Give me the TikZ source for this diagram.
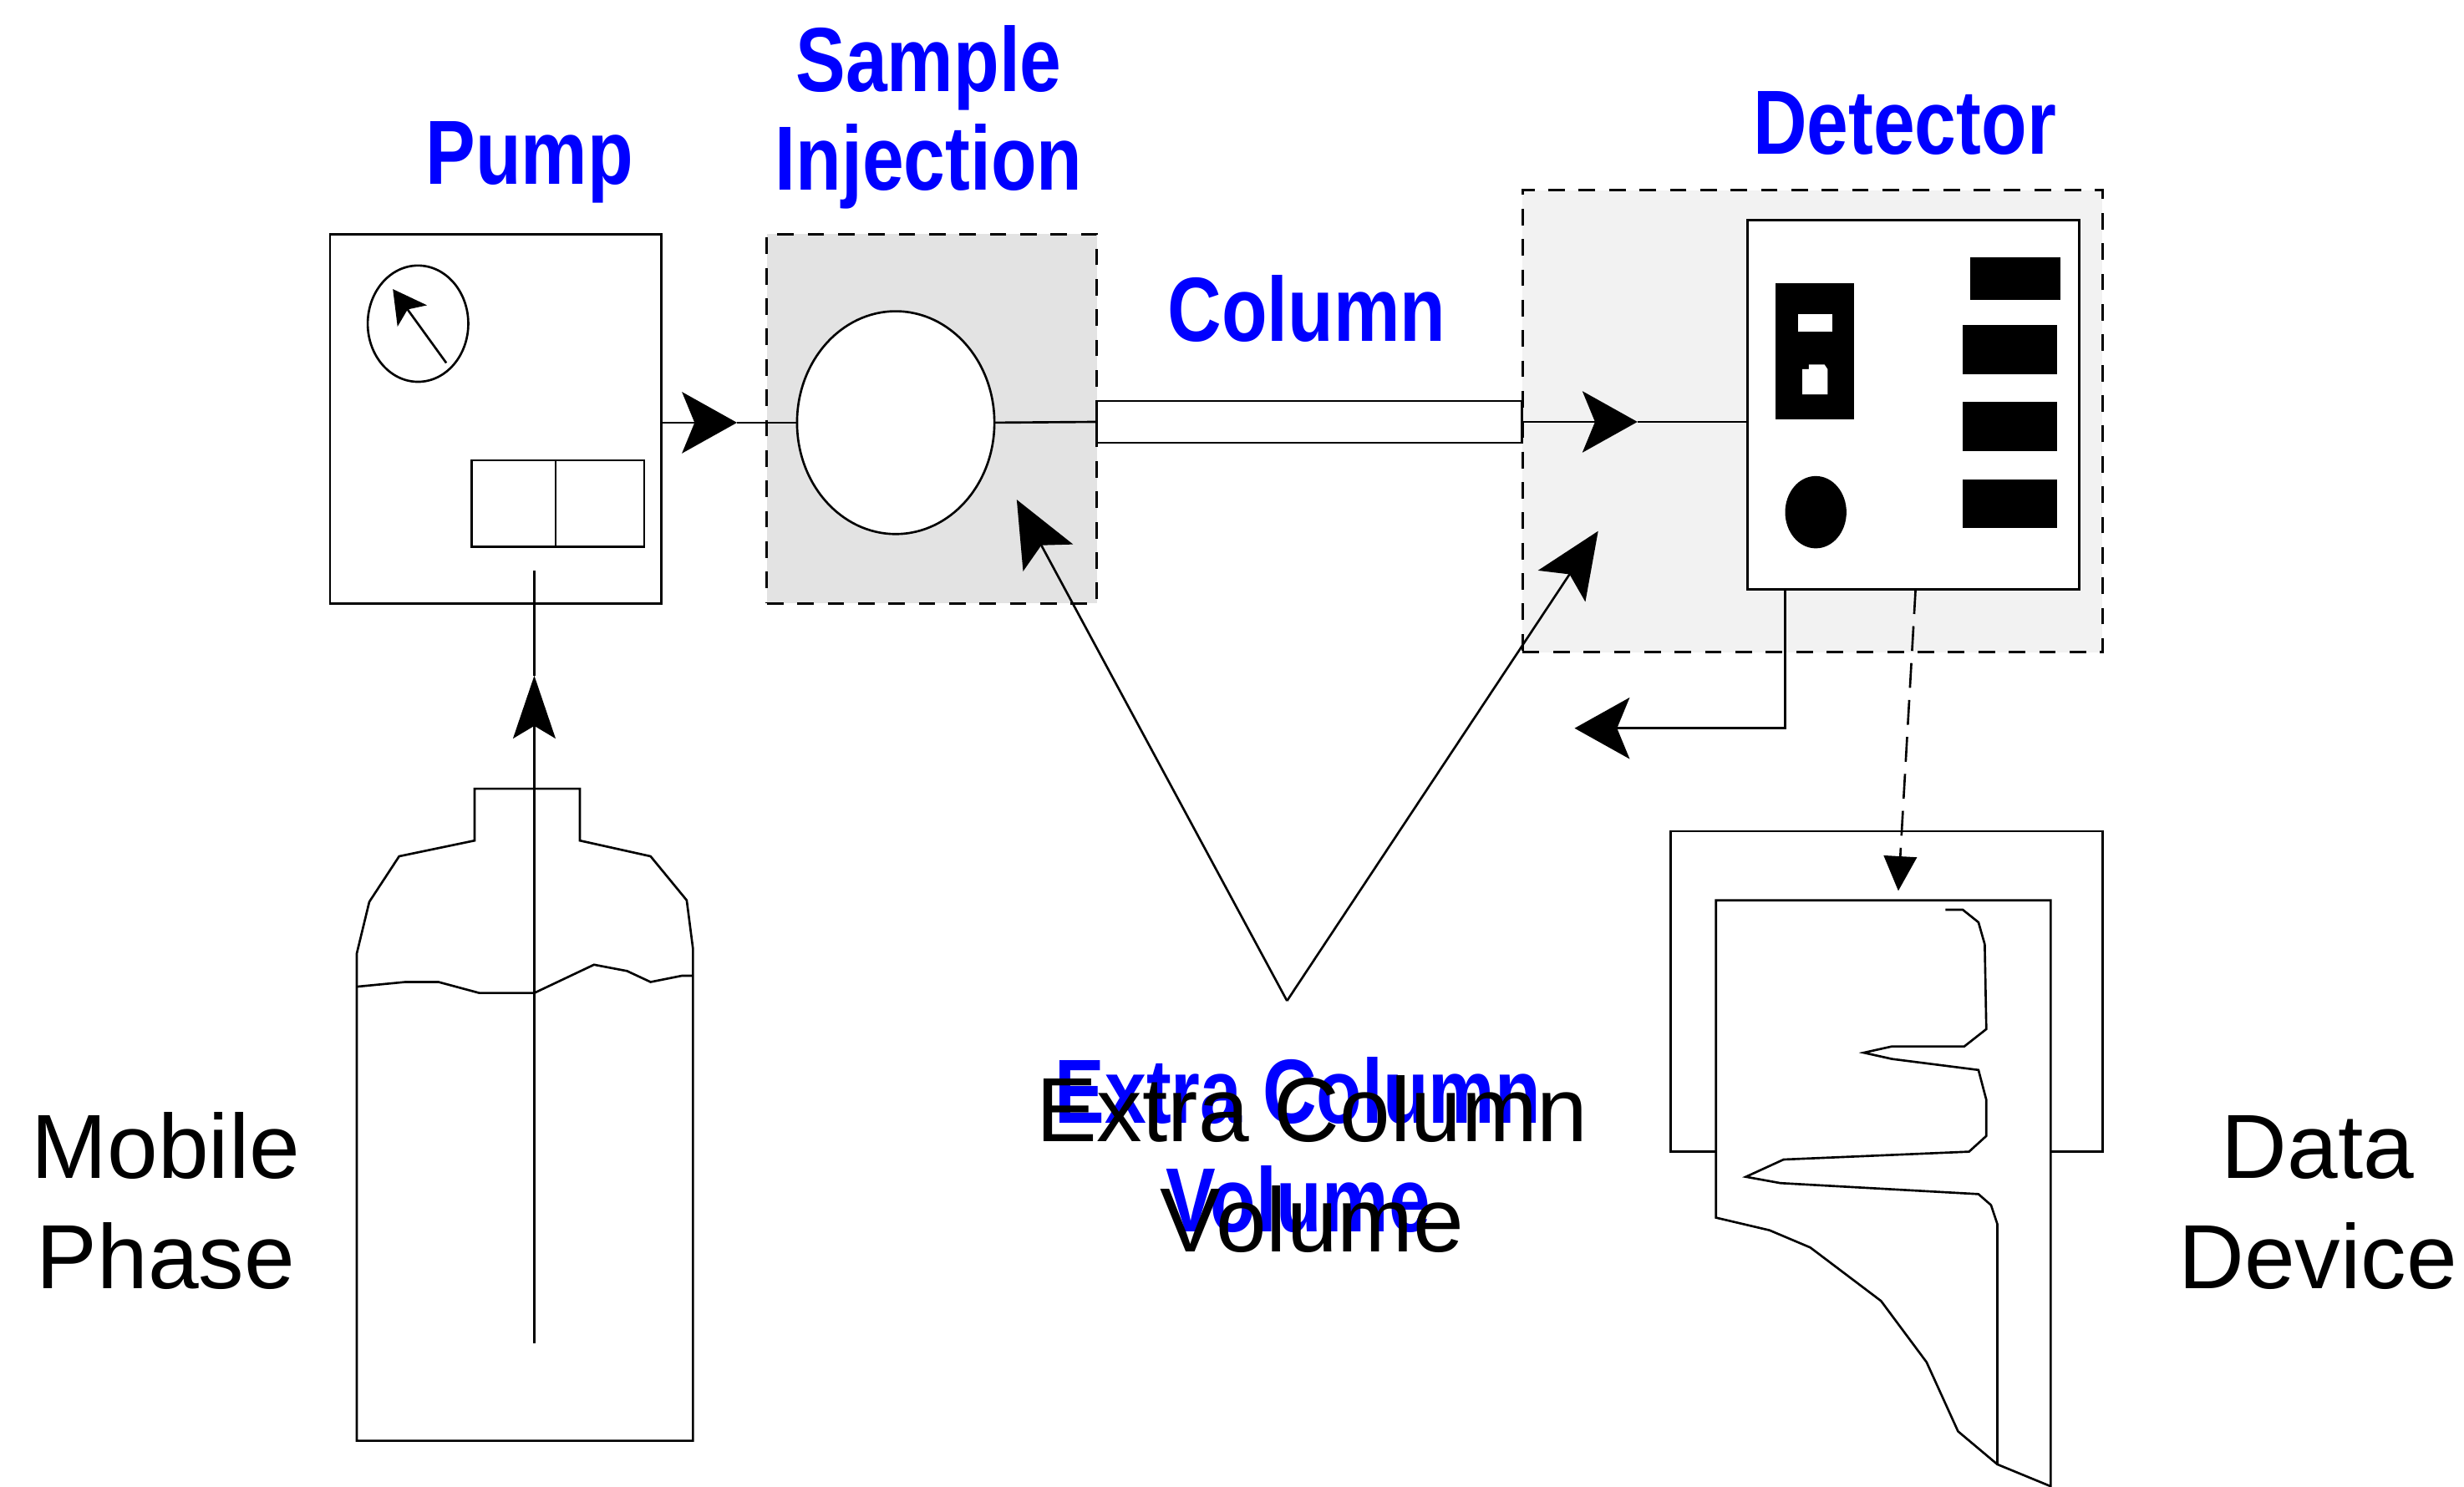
\documentclass[tikz,border=0pt]{standalone}
\usepackage{fontspec}
\setmainfont{Liberation Sans}
\newfontfamily\pixfont[FakeStretch=0.82]{Liberation Sans}
\usetikzlibrary{arrows.meta,shapes.geometric}
\definecolor{labelblue}{RGB}{0,0,255}
\definecolor{injgray}{RGB}{227,227,227}
\definecolor{detgray}{RGB}{242,242,242}

\begin{document}
\begin{tikzpicture}
	\tikzstyle{box} = [draw=black, fill=white, rectangle, inner sep=0pt, outer sep=0pt]
	\tikzstyle{zone} = [draw=black, dash pattern=on 3pt off 2.5pt, rectangle, inner sep=0pt, outer sep=0pt]
	\tikzstyle{flow} = [-{Stealth[length=3.5mm, width=3.9mm, inset=0.8mm]}]
	\tikzstyle{feed} = [-{Stealth[length=4mm, width=2.7mm, inset=0.8mm]}]
	\tikzstyle{pointer} = [-{Stealth[length=4.2mm, width=3.6mm, inset=0.9mm]}]
	\tikzstyle{part} = [font=\pixfont\fontsize{16.5}{17.9}\selectfont\bfseries, text=labelblue, inner sep=0pt, align=center]
	\tikzstyle{caption} = [font=\fontsize{16.5}{20}\selectfont, inner sep=0pt, align=center]
	\path[use as bounding box, fill=white] (0,0) rectangle (15.68,9.46);
	% shaded regions around injector and detector
	\node[zone, fill=injgray, minimum width=2.10cm, minimum height=2.35cm] (injzone) at (5.93,6.795) {};
	\node[zone, fill=detgray, minimum width=3.69cm, minimum height=2.94cm] (detzone) at (11.535,6.78) {};
	% pump
	\node[box, minimum width=2.11cm, minimum height=2.35cm] (pump) at (3.155,6.795) {};
	\node[box, ellipse, minimum width=0.64cm, minimum height=0.74cm] (gauge) at (2.66,7.40) {};
	\draw[-{Stealth[length=2.1mm, width=2.3mm, inset=0.5mm]}] (2.84,7.15) -- (2.50,7.62);
	\node[box, minimum width=1.10cm, minimum height=0.55cm] (keypad) at (3.55,6.255) {};
	\draw ([xshift=-0.015cm]keypad.north) -- ([xshift=-0.015cm]keypad.south);
	% injector, column, detector
	\node[box, ellipse, minimum width=1.256cm, minimum height=1.418cm] (loop) at (5.70,6.77) {};
	\node[box, minimum width=2.705cm, minimum height=0.266cm] (column) at (8.3325,6.775) {};
	\node[box, minimum width=2.11cm, minimum height=2.35cm] (detector) at (12.175,6.885) {};
	\fill (11.30,6.79) rectangle (11.80,7.66);
	\fill[white] (11.44,7.35) rectangle (11.66,7.46);
	\fill[white] (11.47,6.95) -- (11.63,6.95) -- (11.63,7.11) -- (11.61,7.14) -- (11.51,7.14) -- (11.51,7.11) -- (11.47,7.11) -- cycle;
	\fill (11.555,6.20) ellipse (0.195 and 0.23);
	\fill (12.54,7.55) rectangle (13.11,7.82);
	\foreach \y in {7.08,6.59,6.10}
		\fill (12.49,\y) rectangle (13.09,\y+0.31);
	% flow path
	\coordinate (pumptip) at (4.69,6.77);
	\coordinate (dettip) at (10.42,6.775);
	\draw[flow] (pump.east |- loop) -- (pumptip);
	\draw (pumptip) -- (loop.west);
	\draw (loop.east) -- (column.west);
	\draw[flow] (column.east) -- (dettip);
	\draw (dettip) -- (detector.west |- dettip);
	\coordinate (waste) at (10.02,4.825);
	\draw[flow] ([xshift=0.24cm]detector.south west) |- (waste);
	% data device
	\node[box, minimum width=2.75cm, minimum height=2.04cm] (recorder) at (12.005,3.15) {};
	\draw[fill=white] (10.92,3.73) -- (13.05,3.73) -- (13.05,0) -- (12.71,0.14) -- (12.46,0.35) -- (12.26,0.79)
		-- (11.97,1.18) -- (11.52,1.52) -- (11.26,1.63) -- (10.92,1.71) -- cycle;
	\draw (12.38,3.67) -- (12.49,3.67) -- (12.59,3.59) -- (12.63,3.45) -- (12.64,2.91) -- (12.50,2.80)
		-- (12.04,2.80) -- (11.86,2.76) -- (12.04,2.72) -- (12.59,2.65) -- (12.64,2.46) -- (12.64,2.23)
		-- (12.53,2.13) -- (11.35,2.08) -- (11.11,1.97) -- (11.33,1.93) -- (12.59,1.86) -- (12.67,1.79)
		-- (12.71,1.67) -- (12.71,0.14);
	\coordinate (chart) at (12.08,3.79);
	\draw[dash pattern=on 4.5pt off 2.2pt, -{Triangle[length=2.2mm, width=2.1mm]}] ([xshift=0.015cm]detector.south) -- (chart);
	% solvent bottle
	\draw (2.27,0.29) -- (2.27,3.39) -- (2.35,3.72) -- (2.54,4.01) -- (3.02,4.11) -- (3.02,4.44) -- (3.69,4.44)
		-- (3.69,4.11) -- (4.14,4.01) -- (4.37,3.73) -- (4.41,3.42) -- (4.41,0.29) -- cycle;
	\draw (2.27,3.18) -- (2.58,3.21) -- (2.79,3.21) -- (3.05,3.14) -- (3.40,3.14) -- (3.78,3.32) -- (3.99,3.28)
		-- (4.14,3.21) -- (4.34,3.25) -- (4.41,3.25);
	\coordinate (inlet) at (3.40,0.91);
	\coordinate (suction) at (3.40,5.16);
	\draw[feed] (inlet) -- (suction);
	\draw (suction) -- ([yshift=0.21cm]pump.south -| inlet);
	% extra column volume pointers
	\coordinate (dead) at (8.19,3.09);
	\coordinate (deadinj) at (6.47,6.28);
	\coordinate (deaddet) at (10.17,6.08);
	\draw[pointer] (dead) -- (deadinj);
	\draw[pointer] (dead) -- (deaddet);
	% labels (base anchor sits on the last line)
	\node[part, anchor=base] (pumplabel) at (3.37,8.29) {Pump};
	\node[part, anchor=base] (injlabel) at (5.91,8.25) {Sample\\Injection};
	\node[part, anchor=base] (collabel) at (8.315,7.29) {Column};
	\node[part, anchor=base] (detlabel) at (12.12,8.48) {Detector};
	\node[part, anchor=base, font=\pixfont\fontsize{16.5}{19.6}\selectfont\bfseries] (ecvpart) at (8.26,1.62) {Extra Column\\Volume};
	\node[caption, anchor=base] (ecv) at (8.35,1.49) {Extra Column\\Volume};
	\node[caption, anchor=base] (mobile) at (1.055,1.26) {Mobile\\Phase};
	\node[caption, anchor=base] (device) at (14.75,1.26) {Data\\Device};
\end{tikzpicture}
\end{document}
